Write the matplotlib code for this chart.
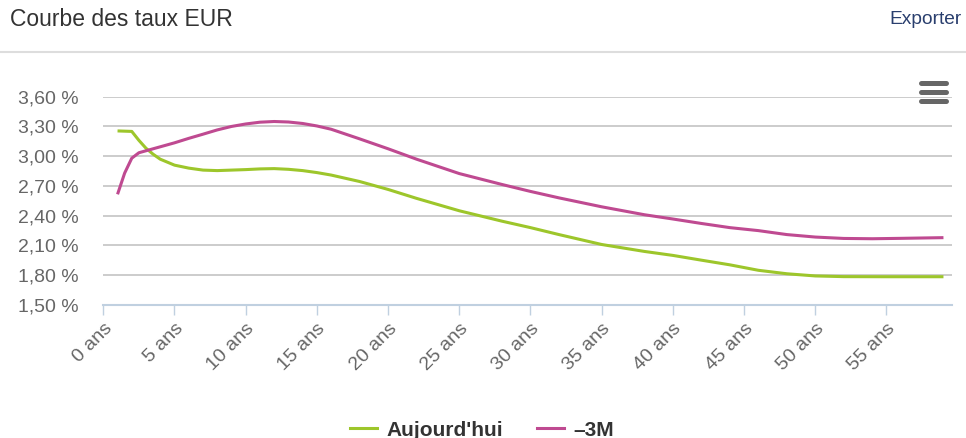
import matplotlib
matplotlib.use("Agg")
import matplotlib.pyplot as plt
from matplotlib.lines import Line2D

plt.rcParams['font.family'] = ['Liberation Sans', 'DejaVu Sans']

# Maturities (years) and rates (%)
maturities_today = [1, 2, 2.5, 3, 3.5, 4, 5, 6, 7, 8, 9, 10, 11, 12, 13, 14, 15, 16,
                    18, 20, 22, 25, 28, 30, 32, 35, 38, 40, 42, 44, 46, 48, 50, 52, 55, 59]
rates_today = [3.255, 3.25, 3.16, 3.08, 3.02, 2.97, 2.91, 2.88, 2.86, 2.855, 2.86, 2.865,
               2.872, 2.875, 2.868, 2.855, 2.835, 2.81, 2.745, 2.665, 2.575, 2.45, 2.345,
               2.28, 2.21, 2.11, 2.04, 2.0, 1.952, 1.905, 1.85, 1.815, 1.793, 1.786, 1.785, 1.785]

maturities_3m = [1, 1.5, 2, 2.5, 3, 4, 5, 6, 7, 8, 9, 10, 11, 12, 13, 14, 15, 16, 18, 20,
                 22, 25, 28, 30, 32, 35, 38, 40, 42, 44, 46, 48, 50, 52, 54, 56, 59]
rates_3m = [2.616, 2.83, 2.98, 3.035, 3.055, 3.095, 3.135, 3.18, 3.222, 3.265, 3.30, 3.325,
            3.343, 3.35, 3.345, 3.33, 3.305, 3.272, 3.175, 3.075, 2.97, 2.825, 2.715, 2.645,
            2.58, 2.49, 2.41, 2.367, 2.322, 2.28, 2.25, 2.21, 2.185, 2.171, 2.168, 2.172, 2.179]

series_names = ["Aujourd'hui", "\u20133M"]
series_colors = ["#9dc62b", "#bf4a91"]

y_ticks = [1.50, 1.80, 2.10, 2.40, 2.70, 3.00, 3.30, 3.60]
x_ticks = list(range(0, 60, 5))
x_labels = [f"{v} ans" for v in x_ticks]

W, H = 966, 438
fig = plt.figure(figsize=(W / 100, H / 100), dpi=100)

def fx(px):
    return px / W

def fy(py):
    return 1 - py / H

ax = fig.add_axes([fx(103.3), fy(305), fx(952) - fx(103.3), fy(96.7) - fy(305)])

ax.plot(maturities_today, rates_today, color=series_colors[0], lw=2.2,
        solid_capstyle='butt', solid_joinstyle='round', zorder=3)
ax.plot(maturities_3m, rates_3m, color=series_colors[1], lw=2.2,
        solid_capstyle='butt', solid_joinstyle='round', zorder=3)

ax.set_xlim(0, 59.6)
ax.set_ylim(1.5, 3.6)

ax.set_yticks(y_ticks)
ax.set_yticklabels([f"{v:.2f} %".replace('.', ',') for v in y_ticks],
                   fontsize=14, color="#666666")
ax.tick_params(axis='y', length=0, pad=18)
ax.yaxis.grid(True, color="#cccccc", lw=1.4)
ax.set_axisbelow(True)

ax.set_xticks(x_ticks)
ax.set_xticklabels(x_labels, rotation=45, ha='right', va='top',
                   rotation_mode='anchor', fontsize=14, color="#666666")
ax.tick_params(axis='x', length=7, width=1, color="#c0d0e0", pad=4)

for side in ['top', 'right', 'left']:
    ax.spines[side].set_visible(False)
ax.spines['bottom'].set_color("#c0d0e0")
ax.spines['bottom'].set_linewidth(1.5)

# Header
fig.text(fx(10), fy(19), "Courbe des taux EUR", fontsize=16.5, color="#333333",
         ha='left', va='center')
fig.text(fx(962), fy(19), "Exporter", fontsize=13.8, color="#2a3f6e",
         ha='right', va='center')
fig.add_artist(Line2D([0, 1], [fy(52), fy(52)], color="#dddddd", lw=1.5))

# Menu icon
for yy in (83, 92, 101):
    fig.add_artist(Line2D([fx(921), fx(946)], [fy(yy), fy(yy)], color="#666666",
                          lw=3.6, solid_capstyle='round'))

# Legend
handles = [Line2D([], [], color=c, lw=2.2) for c in series_colors]
fig.legend(handles, series_names, loc='center', bbox_to_anchor=(fx(482), fy(430)),
           ncol=2, frameon=False, handlelength=1.3, handletextpad=0.45,
           columnspacing=1.6, prop={'weight': 'bold', 'size': 15}, labelcolor="#333333")

fig.savefig("out.png", dpi=100)
